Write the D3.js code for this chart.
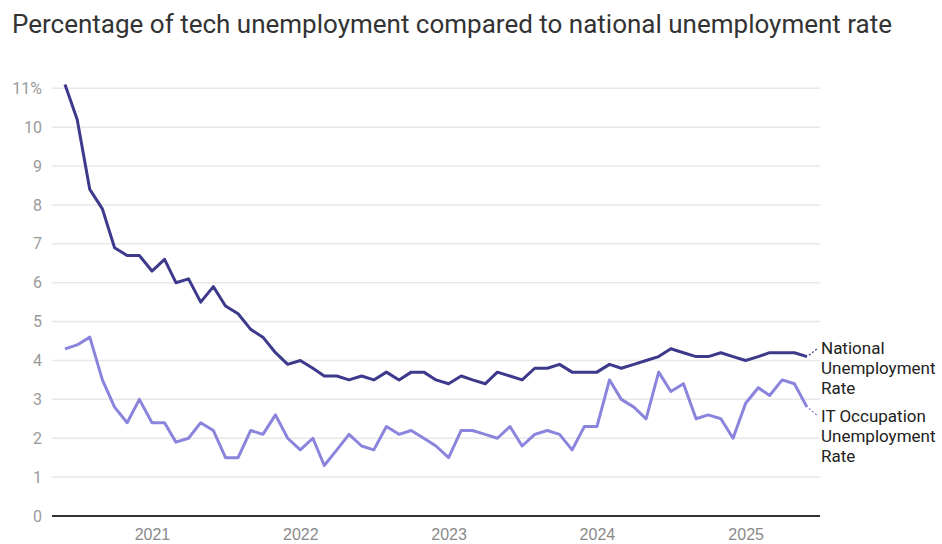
<!DOCTYPE html>
<html>
<head>
<meta charset="utf-8">
<script src="https://cdn.jsdelivr.net/npm/d3@7"></script>
<style>
  body { margin: 0; background: #fff; }
  svg { display: block; font-family: Roboto, "Noto Sans", sans-serif; }
</style>
</head>
<body>
<svg id="chart" width="942" height="544"></svg>
<script>
// monthly series, Jun 2020 .. Jun 2025
const startMonth = new Date(2020, 5, 1);
const nationalRate = [
  11.1, 10.2, 8.4, 7.9, 6.9, 6.7, 6.7,
  6.3, 6.6, 6.0, 6.1, 5.5, 5.9, 5.4, 5.2, 4.8, 4.6, 4.2, 3.9,
  4.0, 3.8, 3.6, 3.6, 3.5, 3.6, 3.5, 3.7, 3.5, 3.7, 3.7, 3.5,
  3.4, 3.6, 3.5, 3.4, 3.7, 3.6, 3.5, 3.8, 3.8, 3.9, 3.7, 3.7,
  3.7, 3.9, 3.8, 3.9, 4.0, 4.1, 4.3, 4.2, 4.1, 4.1, 4.2, 4.1,
  4.0, 4.1, 4.2, 4.2, 4.2, 4.1,
];
const itRate = [
  4.3, 4.4, 4.6, 3.5, 2.8, 2.4, 3.0,
  2.4, 2.4, 1.9, 2.0, 2.4, 2.2, 1.5, 1.5, 2.2, 2.1, 2.6, 2.0,
  1.7, 2.0, 1.3, 1.7, 2.1, 1.8, 1.7, 2.3, 2.1, 2.2, 2.0, 1.8,
  1.5, 2.2, 2.2, 2.1, 2.0, 2.3, 1.8, 2.1, 2.2, 2.1, 1.7, 2.3,
  2.3, 3.5, 3.0, 2.8, 2.5, 3.7, 3.2, 3.4, 2.5, 2.6, 2.5, 2.0,
  2.9, 3.3, 3.1, 3.5, 3.4, 2.8,
];
const yTicks = [0, 1, 2, 3, 4, 5, 6, 7, 8, 9, 10, 11];
const xTickYears = [2021, 2022, 2023, 2024, 2025];
const seriesNames = [["National", "Unemployment", "Rate"], ["IT Occupation", "Unemployment", "Rate"]];

const svg = d3.select("#chart");
const months = nationalRate.map((_, i) => d3.timeMonth.offset(startMonth, i));

const plotLeft = 52, plotRight = 820;
const x = d3.scaleTime()
  .domain([months[0], months[months.length - 1]])
  .range([65, 807]);
const y = d3.scaleLinear().domain([0, 11]).range([516, 88.3]);

svg.append("text")
  .attr("x", 12)
  .attr("y", 33)
  .attr("font-size", 26)
  .attr("fill", "#333")
  .text("Percentage of tech unemployment compared to national unemployment rate");

// gridlines
svg.append("g")
  .selectAll("line")
  .data(yTicks.filter((d) => d > 0))
  .join("line")
  .attr("x1", plotLeft)
  .attr("x2", plotRight)
  .attr("y1", (d) => y(d))
  .attr("y2", (d) => y(d))
  .attr("stroke", "#e8e8e8")
  .attr("stroke-width", 1.5);

// y labels
svg.append("g")
  .selectAll("text")
  .data(yTicks)
  .join("text")
  .attr("x", 42)
  .attr("y", (d) => y(d))
  .attr("dy", "0.35em")
  .attr("text-anchor", "end")
  .attr("font-size", 16)
  .attr("fill", "#9a9a9a")
  .text((d) => (d === 11 ? d + "%" : d));

// x axis
const xAxis = svg.append("g")
  .attr("transform", `translate(0,${y(0)})`)
  .call(
    d3.axisBottom(x)
      .tickValues(xTickYears.map((yr) => new Date(yr, 0, 1)))
      .tickFormat(d3.timeFormat("%Y"))
      .tickSize(0)
      .tickPadding(13)
  );
xAxis.select(".domain").remove();
xAxis.selectAll("text").attr("font-size", 16).attr("fill", "#8a8a8a").attr("font-family", null);
svg.append("line")
  .attr("x1", plotLeft)
  .attr("x2", plotRight)
  .attr("y1", y(0))
  .attr("y2", y(0))
  .attr("stroke", "#333")
  .attr("stroke-width", 1.8);

const line = d3.line()
  .x((d, i) => x(months[i]))
  .y((d) => y(d));

const series = [
  { values: nationalRate, color: "#3d3a8c", labelY: 348 },
  { values: itRate, color: "#8a84dc", labelY: 416 },
];

series.forEach((s, k) => {
  svg.append("path")
    .datum(s.values)
    .attr("fill", "none")
    .attr("stroke", s.color)
    .attr("stroke-width", 3)
    .attr("stroke-linejoin", "round")
    .attr("d", line);

  const last = s.values.length - 1;
  const lx = x(months[last]), ly = y(s.values[last]);
  svg.append("line")
    .attr("x1", lx + 2)
    .attr("y1", ly + (s.labelY - ly) * 0.15)
    .attr("x2", 818)
    .attr("y2", s.labelY)
    .attr("stroke", s.color)
    .attr("stroke-width", 1.3)
    .attr("stroke-dasharray", "2 2");

  svg.append("text")
    .attr("x", 821)
    .attr("y", s.labelY)
    .attr("font-size", 17)
    .attr("fill", "#222")
    .selectAll("tspan")
    .data(seriesNames[k])
    .join("tspan")
    .attr("x", 821)
    .attr("dy", (d, i) => (i === 0 ? "0.35em" : 20))
    .text((d) => d);
});
</script>
</body>
</html>
